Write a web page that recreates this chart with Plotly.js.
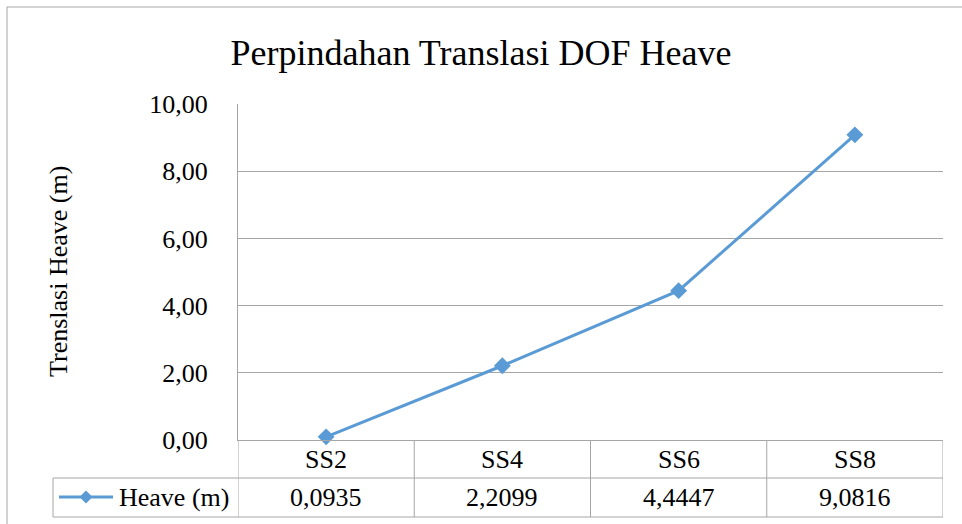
<!DOCTYPE html>
<html>
<head>
<meta charset="utf-8">
<script src="https://cdn.plot.ly/plotly-3.0.1.min.js"></script>
<style>html,body{margin:0;padding:0;background:#fff;}#chart{width:962px;height:524px;}</style>
</head>
<body>
<div id="chart"></div>
<script>
// Data
const categories = ["SS2", "SS4", "SS6", "SS8"];
const heaveValues = [0.0935, 2.2099, 4.4447, 9.0816];
const tableLabels = ["0,0935", "2,2099", "4,4447", "9,0816"];
const seriesName = "Heave (m)";
const chartTitle = "Perpindahan Translasi DOF Heave";
const yTitle = "Trenslasi Heave (m)";

const FONT = "Liberation Serif, Times New Roman, serif";
const BLUE = "#5B9BD5";
const GRID = "#a6a6a6";

// pixel geometry helpers (plot area: x 238..943, y 104..440)
const L = 238, R = 943, T = 104, B = 440;
const px = v => (v - L) / (R - L);
const py = v => (B - v) / (B - T);

const trace = {
  type: "scatter",
  mode: "lines+markers",
  x: categories,
  y: heaveValues,
  name: seriesName,
  line: {color: BLUE, width: 3},
  marker: {symbol: "diamond", size: 13, color: BLUE},
  cliponaxis: false,
  showlegend: false
};

const shapes = [];
const lineStyle = {color: GRID, width: 1};
// outer chart border
shapes.push({type: "rect", xref: "paper", yref: "paper", x0: px(7), x1: px(975), y0: py(540), y1: py(7), line: lineStyle});
// table horizontal lines
shapes.push({type: "line", xref: "paper", yref: "paper", x0: px(53), x1: 1, y0: py(478), y1: py(478), line: lineStyle});
shapes.push({type: "line", xref: "paper", yref: "paper", x0: px(53), x1: 1, y0: py(517), y1: py(517), line: lineStyle});
shapes.push({type: "line", xref: "paper", yref: "paper", x0: px(53), x1: px(53), y0: py(478), y1: py(517), line: lineStyle});
// column boundaries
for (let i = 0; i <= categories.length; i++) {
  shapes.push({type: "line", xref: "x", yref: "paper", x0: i - 0.5, x1: i - 0.5, y0: py(517), y1: 0, line: lineStyle});
}
// legend key: line + diamond
shapes.push({type: "line", xref: "paper", yref: "paper", x0: px(59), x1: px(113), y0: py(497), y1: py(497), line: {color: BLUE, width: 3}});
const cx = px(86), cy = py(497), dx = 6.5 / (R - L), dy = 6.5 / (B - T);
shapes.push({type: "path", xref: "paper", yref: "paper",
  path: `M ${cx - dx} ${cy} L ${cx} ${cy + dy} L ${cx + dx} ${cy} L ${cx} ${cy - dy} Z`,
  fillcolor: BLUE, line: {color: BLUE, width: 0}});

const annotations = [];
categories.forEach((c, i) => {
  annotations.push({x: c, xref: "x", y: py(459), yref: "paper", text: c, showarrow: false,
    xanchor: "center", yanchor: "middle", font: {family: FONT, size: 26, color: "#000"}});
  annotations.push({x: c, xref: "x", y: py(497), yref: "paper", text: tableLabels[i], showarrow: false,
    xanchor: "center", yanchor: "middle", font: {family: FONT, size: 26, color: "#000"}});
});
annotations.push({x: px(174), xref: "paper", y: py(497), yref: "paper", text: seriesName, showarrow: false,
  xanchor: "center", yanchor: "middle", font: {family: FONT, size: 26, color: "#000"}});
annotations.push({x: px(58), xref: "paper", y: py(272), yref: "paper", text: yTitle, showarrow: false,
  textangle: -90, xanchor: "center", yanchor: "middle", font: {family: FONT, size: 26, color: "#000"}});

const layout = {
  width: 962, height: 524,
  margin: {l: L, r: 962 - R, t: T, b: 524 - B, pad: 0},
  paper_bgcolor: "#fff", plot_bgcolor: "#fff",
  separators: ",.",
  title: {text: chartTitle, x: px(481), xref: "paper", xanchor: "center", y: 1 - 52 / 524, yref: "container", yanchor: "middle",
    font: {family: FONT, size: 36, color: "#000"}},
  xaxis: {type: "category", range: [-0.5, categories.length - 0.5], showticklabels: false, ticks: "",
    showgrid: false, zeroline: false, showline: true, linecolor: GRID, linewidth: 1, fixedrange: true},
  yaxis: {range: [0, 10], dtick: 2, tick0: 0, tickformat: ".2f", ticks: "", ticklabelstandoff: 24,
    showgrid: true, gridcolor: GRID, gridwidth: 1, zeroline: false, showline: true, linecolor: GRID, linewidth: 1,
    tickfont: {family: FONT, size: 26, color: "#000"}, fixedrange: true},
  shapes: shapes,
  annotations: annotations,
  showlegend: false
};

Plotly.newPlot("chart", [trace], layout, {displayModeBar: false, staticPlot: true});
</script>
</body>
</html>
